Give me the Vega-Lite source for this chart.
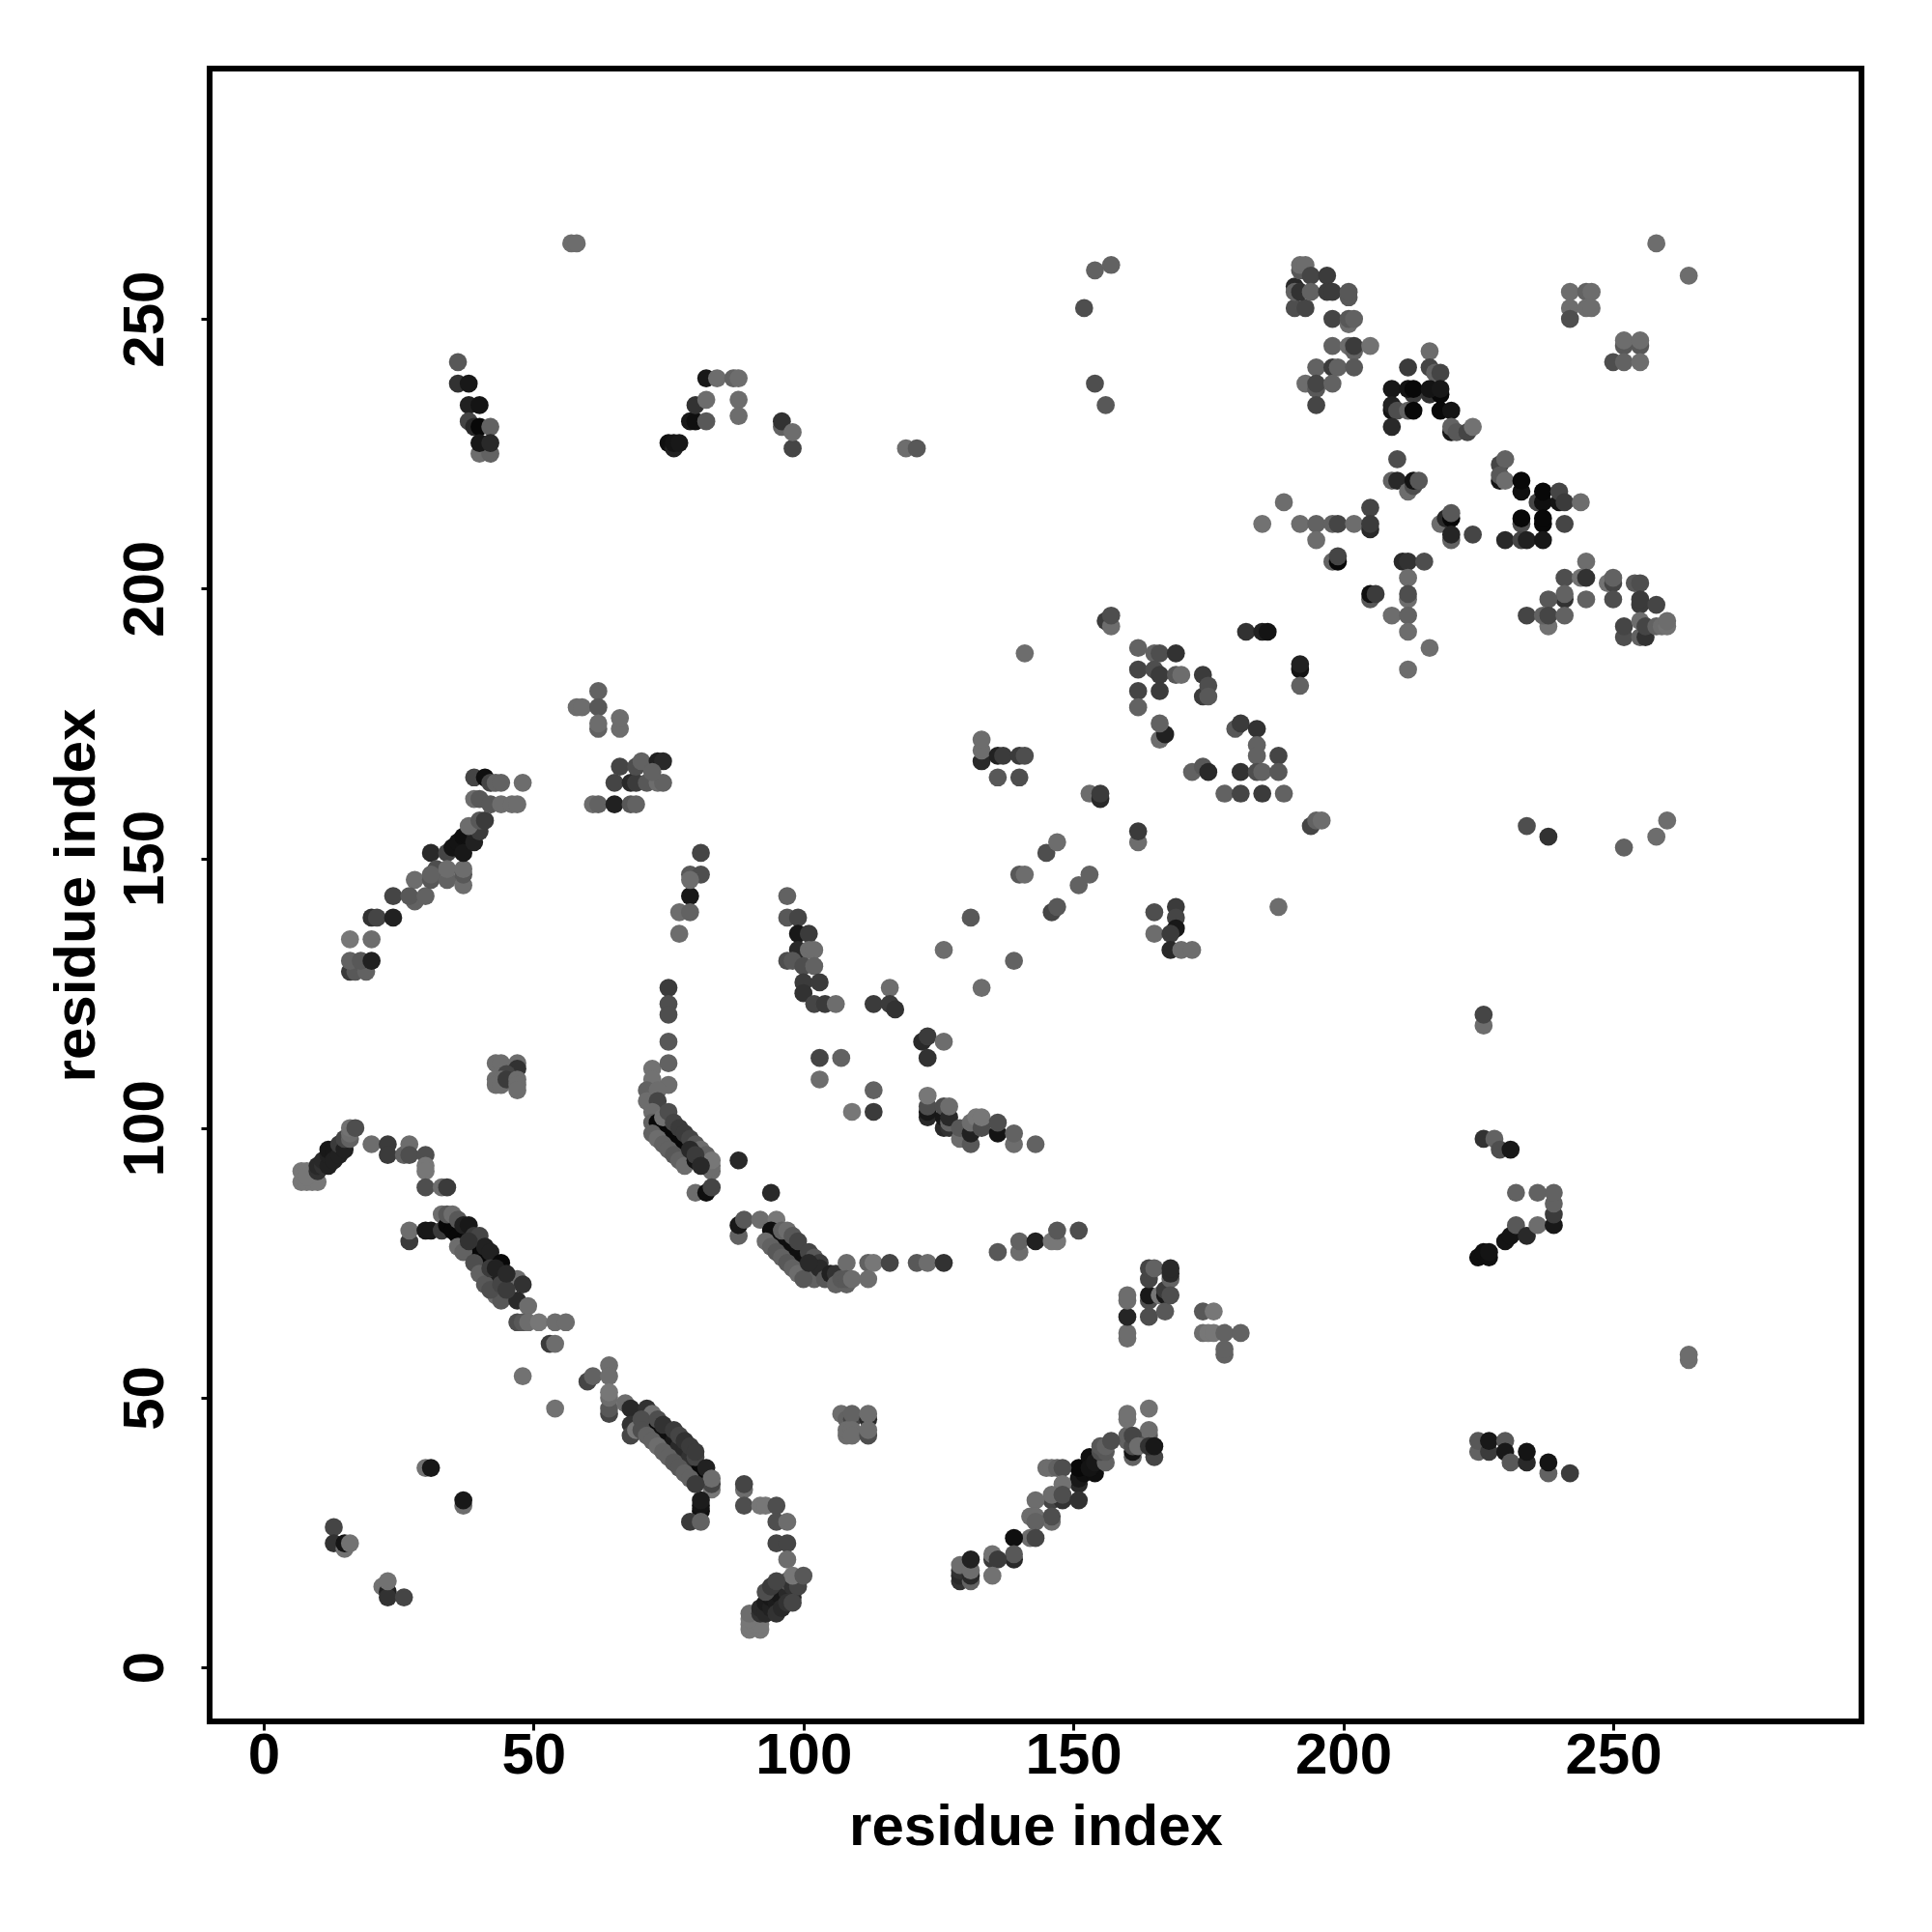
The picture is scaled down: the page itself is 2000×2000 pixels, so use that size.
{"$schema":"https://vega.github.io/schema/vega-lite/v6.json","width":1710,"height":1711,"autosize":"none","padding":{"left":217,"top":71,"right":73,"bottom":218},"background":"white","view":{"stroke":"black","strokeWidth":6,"fill":"white"},
"data":{"values":[
{"x":13,"y":26,"g":70},{"x":13,"y":23,"g":50},{"x":15,"y":22,"g":115},{"x":15,"y":23,"g":15},{"x":16,"y":23,"g":115},{"x":22,"y":15,"g":115},{"x":23,"y":14,"g":30},{"x":23,"y":13,"g":50},{"x":23,"y":16,"g":115},{"x":26,"y":13,"g":70},{"x":30,"y":37,"g":115},{"x":31,"y":37,"g":20},{"x":37,"y":30,"g":110},{"x":37,"y":31,"g":20},
{"x":7,"y":92,"g":120},{"x":8,"y":92,"g":120},{"x":7,"y":90,"g":120},{"x":8,"y":90,"g":120},{"x":9,"y":90,"g":120},{"x":10,"y":90,"g":120},{"x":8,"y":91,"g":120},{"x":10,"y":92,"g":50},{"x":10,"y":93,"g":40},{"x":11,"y":93,"g":50},{"x":11,"y":94,"g":40},{"x":12,"y":93,"g":30},{"x":12,"y":95,"g":30},{"x":12,"y":96,"g":20},{"x":13,"y":96,"g":20},{"x":13,"y":94,"g":30},{"x":14,"y":95,"g":30},{"x":14,"y":97,"g":60},{"x":15,"y":96,"g":30},{"x":15,"y":98,"g":70},{"x":16,"y":98,"g":100},{"x":16,"y":99,"g":110},{"x":16,"y":100,"g":115},{"x":17,"y":100,"g":80},
{"x":20,"y":97,"g":110},{"x":23,"y":97,"g":60},{"x":23,"y":95,"g":60},{"x":26,"y":95,"g":100},{"x":27,"y":97,"g":110},{"x":27,"y":95,"g":80},{"x":30,"y":95,"g":80},{"x":30,"y":93,"g":120},{"x":30,"y":92,"g":120},{"x":30,"y":89,"g":80},{"x":33,"y":89,"g":110},{"x":34,"y":89,"g":60},
{"x":27,"y":79,"g":60},{"x":27,"y":81,"g":110},{"x":30,"y":81,"g":20},{"x":31,"y":81,"g":20},{"x":33,"y":81,"g":60},{"x":33,"y":84,"g":110},{"x":34,"y":82,"g":5},{"x":35,"y":81,"g":5},{"x":36,"y":80,"g":5},{"x":37,"y":79,"g":5},{"x":38,"y":78,"g":5},{"x":39,"y":77,"g":5},{"x":40,"y":75,"g":5},{"x":41,"y":74,"g":5},{"x":41,"y":73,"g":10},{"x":42,"y":72,"g":20},{"x":43,"y":72,"g":30},
{"x":34,"y":84,"g":90},{"x":35,"y":84,"g":110},{"x":36,"y":83,"g":90},{"x":37,"y":82,"g":30},{"x":38,"y":82,"g":20},{"x":39,"y":80,"g":60},{"x":40,"y":80,"g":70},{"x":41,"y":78,"g":30},{"x":42,"y":77,"g":30},{"x":44,"y":75,"g":5},{"x":43,"y":69,"g":110},{"x":44,"y":68,"g":90},{"x":47,"y":72,"g":110},{"x":48,"y":71,"g":50},{"x":47,"y":68,"g":40},{"x":49,"y":67,"g":110},{"x":47,"y":64,"g":80},{"x":48,"y":64,"g":90},{"x":49,"y":64,"g":110},{"x":51,"y":64,"g":120},{"x":54,"y":64,"g":110},{"x":56,"y":64,"g":110},{"x":53,"y":60,"g":60},{"x":54,"y":60,"g":110},{"x":48,"y":54,"g":115},{"x":54,"y":48,"g":115},
{"x":60,"y":53,"g":70},{"x":61,"y":54,"g":100},{"x":64,"y":56,"g":110},{"x":64,"y":54,"g":110},{"x":64,"y":47,"g":70},{"x":64,"y":48,"g":90},{"x":64,"y":50,"g":110},{"x":64,"y":51,"g":120},{"x":67,"y":49,"g":110},{"x":68,"y":48,"g":40},{"x":68,"y":45,"g":50},{"x":68,"y":43,"g":70},{"x":69,"y":44,"g":120},{"x":71,"y":48,"g":50},{"x":72,"y":44,"g":5},{"x":73,"y":43,"g":5},{"x":74,"y":42,"g":5},{"x":75,"y":41,"g":5},{"x":76,"y":40,"g":5},{"x":77,"y":39,"g":5},{"x":78,"y":38,"g":5},{"x":79,"y":37,"g":5},{"x":80,"y":36,"g":5},{"x":81,"y":35,"g":5},{"x":72,"y":47,"g":115},{"x":74,"y":44,"g":10},{"x":75,"y":43,"g":10},{"x":76,"y":42,"g":20},{"x":77,"y":41,"g":40},{"x":78,"y":40,"g":40},{"x":79,"y":39,"g":50},{"x":80,"y":39,"g":70},{"x":82,"y":37,"g":30},{"x":83,"y":33,"g":120},{"x":83,"y":34,"g":70},{"x":83,"y":35,"g":110},{"x":81,"y":29,"g":10},{"x":81,"y":30,"g":15},{"x":81,"y":31,"g":25},{"x":79,"y":27,"g":60},{"x":81,"y":27,"g":100},
{"x":89,"y":33,"g":110},{"x":89,"y":34,"g":70},{"x":89,"y":30,"g":80},{"x":92,"y":30,"g":120},{"x":93,"y":30,"g":120},{"x":95,"y":30,"g":80},{"x":95,"y":27,"g":80},{"x":97,"y":27,"g":110},{"x":95,"y":23,"g":70},{"x":97,"y":23,"g":70},{"x":97,"y":20,"g":110},
{"x":90,"y":7,"g":120},{"x":92,"y":7,"g":120},{"x":90,"y":8,"g":120},{"x":91,"y":8,"g":120},{"x":92,"y":8,"g":120},{"x":90,"y":9,"g":120},{"x":90,"y":10,"g":110},{"x":92,"y":10,"g":50},{"x":92,"y":11,"g":40},{"x":93,"y":10,"g":40},{"x":93,"y":12,"g":25},{"x":94,"y":11,"g":30},{"x":94,"y":13,"g":20},{"x":95,"y":12,"g":25},{"x":95,"y":14,"g":20},{"x":96,"y":13,"g":20},{"x":96,"y":15,"g":20},{"x":97,"y":14,"g":40},{"x":98,"y":13,"g":40},{"x":97,"y":16,"g":90},{"x":98,"y":15,"g":50},{"x":99,"y":15,"g":70},{"x":98,"y":17,"g":120},{"x":100,"y":17,"g":90},
{"x":43,"y":112,"g":110},{"x":44,"y":112,"g":110},{"x":47,"y":112,"g":110},{"x":47,"y":111,"g":50},{"x":45,"y":110,"g":70},{"x":43,"y":109,"g":110},{"x":44,"y":109,"g":110},{"x":43,"y":108,"g":110},{"x":44,"y":108,"g":110},{"x":45,"y":109,"g":60},{"x":47,"y":109,"g":110},{"x":47,"y":108,"g":110},{"x":47,"y":107,"g":110},
{"x":72,"y":111,"g":115},{"x":75,"y":112,"g":100},{"x":72,"y":109,"g":115},{"x":75,"y":108,"g":110},{"x":71,"y":107,"g":100},{"x":73,"y":107,"g":110},{"x":71,"y":105,"g":110},{"x":73,"y":105,"g":70},{"x":72,"y":103,"g":110},{"x":72,"y":101,"g":100},{"x":73,"y":101,"g":5},{"x":74,"y":100,"g":5},{"x":75,"y":99,"g":5},{"x":76,"y":98,"g":5},{"x":77,"y":97,"g":5},{"x":78,"y":96,"g":5},{"x":79,"y":95,"g":5},{"x":74,"y":102,"g":115},{"x":75,"y":103,"g":80},{"x":76,"y":101,"g":70},{"x":77,"y":100,"g":60},{"x":78,"y":99,"g":60},{"x":79,"y":98,"g":70},{"x":80,"y":97,"g":90},{"x":81,"y":96,"g":110},{"x":82,"y":95,"g":100},{"x":83,"y":92,"g":110},{"x":83,"y":93,"g":110},{"x":83,"y":94,"g":120},{"x":80,"y":88,"g":110},{"x":82,"y":88,"g":10},{"x":83,"y":89,"g":70},{"x":88,"y":94,"g":40},{"x":94,"y":88,"g":40},
{"x":88,"y":80,"g":100},{"x":88,"y":82,"g":20},{"x":89,"y":83,"g":90},{"x":92,"y":83,"g":110},{"x":95,"y":83,"g":120},{"x":94,"y":81,"g":10},{"x":95,"y":80,"g":10},{"x":96,"y":79,"g":10},{"x":97,"y":78,"g":10},{"x":98,"y":77,"g":10},{"x":99,"y":76,"g":10},{"x":100,"y":75,"g":10},{"x":96,"y":81,"g":100},{"x":97,"y":81,"g":110},{"x":98,"y":80,"g":90},{"x":99,"y":79,"g":70},{"x":101,"y":77,"g":70},{"x":102,"y":76,"g":90},{"x":103,"y":75,"g":60},{"x":101,"y":73,"g":80},{"x":102,"y":72,"g":100},{"x":103,"y":74,"g":40},{"x":104,"y":72,"g":90},{"x":105,"y":73,"g":30},{"x":106,"y":73,"g":50},{"x":106,"y":71,"g":100},{"x":108,"y":71,"g":100},{"x":107,"y":72,"g":90},{"x":108,"y":75,"g":110},{"x":108,"y":72,"g":90},{"x":109,"y":72,"g":110},{"x":112,"y":75,"g":100},{"x":113,"y":75,"g":120},{"x":112,"y":72,"g":110},{"x":116,"y":75,"g":70},{"x":121,"y":75,"g":90},{"x":123,"y":75,"g":110},{"x":126,"y":75,"g":50},
{"x":136,"y":77,"g":90},{"x":140,"y":77,"g":110},{"x":140,"y":79,"g":100},{"x":143,"y":79,"g":30},{"x":146,"y":79,"g":120},{"x":147,"y":79,"g":120},{"x":147,"y":81,"g":90},{"x":151,"y":81,"g":80},
{"x":113,"y":107,"g":100},{"x":109,"y":103,"g":120},{"x":113,"y":103,"g":60},{"x":123,"y":102,"g":40},{"x":123,"y":103,"g":20},{"x":123,"y":104,"g":80},{"x":123,"y":106,"g":120},{"x":126,"y":100,"g":40},{"x":126,"y":102,"g":20},{"x":126,"y":104,"g":80},{"x":127,"y":100,"g":50},{"x":127,"y":101,"g":100},{"x":127,"y":102,"g":40},{"x":127,"y":104,"g":110},{"x":129,"y":98,"g":110},{"x":129,"y":100,"g":90},{"x":131,"y":97,"g":90},{"x":131,"y":99,"g":30},{"x":131,"y":101,"g":110},{"x":132,"y":102,"g":120},{"x":133,"y":100,"g":80},{"x":133,"y":102,"g":120},{"x":136,"y":99,"g":15},{"x":136,"y":101,"g":80},{"x":139,"y":97,"g":110},{"x":139,"y":99,"g":100},{"x":143,"y":97,"g":100},
{"x":164,"y":65,"g":80},{"x":164,"y":68,"g":80},{"x":164,"y":69,"g":20},{"x":164,"y":72,"g":70},{"x":164,"y":74,"g":70},{"x":165,"y":74,"g":100},{"x":166,"y":69,"g":120},{"x":167,"y":69,"g":20},{"x":167,"y":70,"g":60},{"x":167,"y":66,"g":90},{"x":168,"y":72,"g":100},{"x":168,"y":69,"g":80},{"x":168,"y":73,"g":40},{"x":168,"y":74,"g":40},{"x":160,"y":61,"g":110},{"x":160,"y":62,"g":110},{"x":160,"y":65,"g":35},{"x":160,"y":68,"g":110},{"x":160,"y":69,"g":110},
{"x":174,"y":66,"g":90},{"x":176,"y":66,"g":120},{"x":174,"y":62,"g":110},{"x":175,"y":62,"g":120},{"x":176,"y":62,"g":120},{"x":178,"y":62,"g":100},{"x":178,"y":58,"g":100},{"x":178,"y":59,"g":100},{"x":181,"y":62,"g":100},
{"x":107,"y":47,"g":110},{"x":108,"y":46,"g":100},{"x":109,"y":46,"g":70},{"x":109,"y":47,"g":100},{"x":112,"y":46,"g":40},{"x":112,"y":47,"g":110},{"x":108,"y":43,"g":110},{"x":108,"y":44,"g":110},{"x":109,"y":44,"g":110},{"x":109,"y":43,"g":110},{"x":112,"y":43,"g":80},{"x":112,"y":44,"g":110},
{"x":160,"y":42,"g":100},{"x":160,"y":43,"g":100},{"x":160,"y":46,"g":115},{"x":160,"y":47,"g":115},{"x":164,"y":48,"g":115},{"x":164,"y":43,"g":90},{"x":164,"y":44,"g":110},{"x":161,"y":39,"g":100},{"x":161,"y":40,"g":15},{"x":161,"y":41,"g":80},{"x":161,"y":43,"g":70},{"x":162,"y":41,"g":110},{"x":165,"y":39,"g":70},{"x":164,"y":41,"g":50},{"x":165,"y":41,"g":20},
{"x":151,"y":34,"g":40},{"x":151,"y":35,"g":20},{"x":152,"y":36,"g":10},{"x":151,"y":37,"g":5},{"x":154,"y":36,"g":10},{"x":153,"y":39,"g":10},{"x":153,"y":37,"g":15},{"x":154,"y":38,"g":20},{"x":156,"y":38,"g":100},{"x":155,"y":40,"g":80},{"x":156,"y":40,"g":90},{"x":155,"y":41,"g":90},{"x":156,"y":41,"g":100},{"x":157,"y":42,"g":80},
{"x":145,"y":37,"g":110},{"x":146,"y":37,"g":110},{"x":147,"y":37,"g":100},{"x":148,"y":37,"g":80},{"x":148,"y":34,"g":115},{"x":146,"y":31,"g":70},{"x":148,"y":31,"g":50},{"x":146,"y":32,"g":110},{"x":148,"y":32,"g":80},{"x":151,"y":31,"g":50},{"x":143,"y":31,"g":110},{"x":142,"y":28,"g":110},{"x":143,"y":28,"g":110},{"x":146,"y":27,"g":110},{"x":146,"y":28,"g":80},{"x":143,"y":27,"g":100},{"x":142,"y":24,"g":110},{"x":143,"y":24,"g":70},{"x":139,"y":24,"g":10},{"x":139,"y":20,"g":40},{"x":139,"y":21,"g":90},{"x":135,"y":20,"g":60},{"x":135,"y":21,"g":115},{"x":136,"y":20,"g":60},{"x":135,"y":17,"g":115},
{"x":129,"y":16,"g":50},{"x":129,"y":17,"g":40},{"x":129,"y":18,"g":50},{"x":129,"y":19,"g":110},{"x":131,"y":16,"g":100},{"x":131,"y":17,"g":40},{"x":131,"y":18,"g":110},{"x":131,"y":20,"g":30},
{"x":225,"y":40,"g":100},{"x":225,"y":42,"g":90},{"x":227,"y":40,"g":60},{"x":227,"y":42,"g":20},{"x":230,"y":42,"g":90},{"x":230,"y":40,"g":20},{"x":231,"y":38,"g":90},{"x":234,"y":38,"g":40},{"x":234,"y":40,"g":15},{"x":238,"y":36,"g":100},{"x":238,"y":38,"g":15},{"x":242,"y":36,"g":60},
{"x":225,"y":76,"g":10},{"x":226,"y":77,"g":10},{"x":227,"y":76,"g":10},{"x":227,"y":77,"g":15},{"x":230,"y":79,"g":15},{"x":231,"y":80,"g":15},{"x":232,"y":82,"g":90},{"x":234,"y":80,"g":40},{"x":236,"y":82,"g":110},{"x":239,"y":82,"g":20},{"x":239,"y":84,"g":60},{"x":232,"y":88,"g":100},{"x":236,"y":88,"g":100},{"x":239,"y":86,"g":100},{"x":239,"y":88,"g":100},{"x":226,"y":98,"g":50},{"x":228,"y":98,"g":100},{"x":229,"y":96,"g":80},{"x":231,"y":96,"g":20},{"x":226,"y":119,"g":110},{"x":226,"y":121,"g":70},{"x":264,"y":57,"g":110},{"x":264,"y":58,"g":110},
{"x":234,"y":156,"g":80},{"x":238,"y":154,"g":50},{"x":252,"y":152,"g":100},{"x":258,"y":154,"g":110},{"x":260,"y":157,"g":110},
{"x":97,"y":143,"g":100},{"x":97,"y":139,"g":90},{"x":99,"y":139,"g":70},{"x":99,"y":136,"g":20},{"x":101,"y":136,"g":60},{"x":99,"y":133,"g":40},{"x":97,"y":131,"g":80},{"x":98,"y":131,"g":90},{"x":101,"y":133,"g":110},{"x":102,"y":133,"g":110},{"x":100,"y":130,"g":80},{"x":102,"y":130,"g":100},{"x":100,"y":127,"g":60},{"x":103,"y":127,"g":60},{"x":100,"y":125,"g":50},{"x":102,"y":123,"g":70},{"x":104,"y":123,"g":60},{"x":106,"y":123,"g":110},{"x":103,"y":113,"g":70},{"x":107,"y":113,"g":100},{"x":103,"y":109,"g":110},
{"x":113,"y":123,"g":60},{"x":116,"y":126,"g":110},{"x":116,"y":123,"g":60},{"x":117,"y":122,"g":50},{"x":122,"y":116,"g":40},{"x":123,"y":117,"g":60},{"x":123,"y":113,"g":50},{"x":126,"y":116,"g":110},{"x":126,"y":133,"g":110},{"x":131,"y":139,"g":90},{"x":133,"y":126,"g":110},{"x":139,"y":131,"g":100},
{"x":140,"y":147,"g":90},{"x":141,"y":147,"g":110},{"x":145,"y":151,"g":80},{"x":147,"y":153,"g":110},{"x":151,"y":145,"g":100},{"x":153,"y":147,"g":100},{"x":146,"y":140,"g":70},{"x":147,"y":141,"g":90},{"x":153,"y":162,"g":110},{"x":155,"y":161,"g":40},{"x":155,"y":162,"g":60},{"x":162,"y":153,"g":110},{"x":162,"y":155,"g":60},
{"x":165,"y":140,"g":80},{"x":169,"y":141,"g":60},{"x":169,"y":139,"g":70},{"x":169,"y":137,"g":20},{"x":165,"y":136,"g":110},{"x":168,"y":136,"g":60},{"x":168,"y":133,"g":40},{"x":170,"y":133,"g":110},{"x":172,"y":133,"g":110},{"x":188,"y":141,"g":110},
{"x":133,"y":168,"g":40},{"x":133,"y":170,"g":110},{"x":133,"y":172,"g":110},{"x":136,"y":169,"g":30},{"x":137,"y":169,"g":60},{"x":136,"y":165,"g":90},{"x":140,"y":169,"g":60},{"x":141,"y":169,"g":80},{"x":140,"y":165,"g":80},{"x":141,"y":188,"g":110},
{"x":152,"y":252,"g":80},{"x":154,"y":238,"g":80},{"x":154,"y":259,"g":100},{"x":157,"y":260,"g":100},{"x":156,"y":234,"g":90},{"x":156,"y":194,"g":60},{"x":157,"y":193,"g":110},{"x":157,"y":195,"g":80},
{"x":162,"y":189,"g":100},{"x":162,"y":185,"g":70},{"x":162,"y":181,"g":70},{"x":162,"y":178,"g":100},{"x":165,"y":188,"g":100},{"x":166,"y":188,"g":80},{"x":165,"y":185,"g":80},{"x":166,"y":184,"g":60},{"x":169,"y":188,"g":50},{"x":169,"y":184,"g":90},{"x":170,"y":184,"g":110},{"x":166,"y":181,"g":60},{"x":166,"y":172,"g":110},{"x":167,"y":173,"g":30},{"x":166,"y":175,"g":100},{"x":172,"y":166,"g":100},{"x":174,"y":167,"g":90},{"x":175,"y":166,"g":40},{"x":174,"y":180,"g":60},{"x":174,"y":184,"g":60},{"x":175,"y":182,"g":80},{"x":175,"y":180,"g":90},{"x":181,"y":166,"g":50},{"x":180,"y":174,"g":90},{"x":181,"y":175,"g":60},{"x":184,"y":174,"g":50},{"x":184,"y":171,"g":100},{"x":184,"y":169,"g":100},{"x":184,"y":166,"g":80},{"x":185,"y":166,"g":100},{"x":188,"y":169,"g":70},{"x":188,"y":166,"g":90},{"x":178,"y":162,"g":100},{"x":181,"y":162,"g":70},{"x":185,"y":162,"g":60},{"x":189,"y":162,"g":100},{"x":182,"y":192,"g":50},{"x":185,"y":192,"g":30},{"x":186,"y":192,"g":15},{"x":192,"y":185,"g":15},{"x":192,"y":186,"g":30},{"x":192,"y":182,"g":100},{"x":194,"y":156,"g":70},{"x":195,"y":157,"g":100},{"x":196,"y":157,"g":110},
{"x":36,"y":242,"g":90},{"x":36,"y":238,"g":50},{"x":38,"y":238,"g":20},{"x":38,"y":234,"g":30},{"x":40,"y":234,"g":15},{"x":38,"y":231,"g":70},{"x":39,"y":230,"g":40},{"x":40,"y":230,"g":5},{"x":42,"y":230,"g":100},{"x":40,"y":225,"g":110},{"x":42,"y":225,"g":100},{"x":40,"y":227,"g":20},{"x":42,"y":227,"g":40},
{"x":75,"y":227,"g":10},{"x":76,"y":226,"g":30},{"x":76,"y":227,"g":15},{"x":77,"y":227,"g":20},{"x":79,"y":231,"g":20},{"x":80,"y":231,"g":10},{"x":80,"y":234,"g":50},{"x":82,"y":231,"g":90},{"x":82,"y":235,"g":110},{"x":82,"y":239,"g":20},{"x":84,"y":239,"g":110},{"x":87,"y":239,"g":100},{"x":88,"y":239,"g":110},{"x":88,"y":235,"g":110},{"x":88,"y":232,"g":110},{"x":96,"y":230,"g":100},{"x":96,"y":231,"g":50},{"x":98,"y":226,"g":70},{"x":98,"y":229,"g":110},{"x":119,"y":226,"g":110},{"x":121,"y":226,"g":90},{"x":57,"y":264,"g":110},{"x":58,"y":264,"g":110},{"x":258,"y":264,"g":110},{"x":264,"y":258,"g":110},
{"x":16,"y":135,"g":120},{"x":20,"y":135,"g":110},{"x":16,"y":129,"g":60},{"x":17,"y":129,"g":90},{"x":19,"y":129,"g":100},{"x":16,"y":131,"g":100},{"x":18,"y":131,"g":90},{"x":20,"y":131,"g":30},{"x":20,"y":139,"g":50},{"x":21,"y":139,"g":70},{"x":24,"y":139,"g":30},{"x":24,"y":143,"g":70},{"x":28,"y":142,"g":100},{"x":28,"y":146,"g":110},{"x":27,"y":143,"g":90},{"x":30,"y":143,"g":100},{"x":31,"y":146,"g":90},{"x":31,"y":151,"g":40},{"x":32,"y":148,"g":80},{"x":31,"y":147,"g":100},{"x":34,"y":151,"g":70},{"x":34,"y":146,"g":100},{"x":34,"y":148,"g":110},{"x":37,"y":145,"g":110},{"x":37,"y":147,"g":90},{"x":37,"y":148,"g":110},{"x":35,"y":152,"g":15},{"x":36,"y":153,"g":15},{"x":37,"y":154,"g":10},{"x":38,"y":154,"g":10},{"x":37,"y":151,"g":20},{"x":39,"y":153,"g":30},{"x":39,"y":155,"g":30},{"x":40,"y":155,"g":60},{"x":38,"y":156,"g":110},{"x":40,"y":157,"g":90},{"x":41,"y":157,"g":60},
{"x":39,"y":165,"g":70},{"x":41,"y":165,"g":10},{"x":42,"y":164,"g":70},{"x":43,"y":164,"g":100},{"x":44,"y":164,"g":100},{"x":39,"y":161,"g":110},{"x":40,"y":161,"g":90},{"x":42,"y":160,"g":90},{"x":44,"y":160,"g":110},{"x":46,"y":160,"g":110},{"x":47,"y":160,"g":110},{"x":48,"y":164,"g":110},
{"x":58,"y":178,"g":110},{"x":59,"y":178,"g":110},{"x":62,"y":181,"g":100},{"x":62,"y":178,"g":90},{"x":62,"y":174,"g":100},{"x":62,"y":175,"g":110},{"x":66,"y":174,"g":110},{"x":66,"y":176,"g":110},{"x":61,"y":160,"g":110},{"x":62,"y":160,"g":100},{"x":65,"y":160,"g":30},{"x":68,"y":160,"g":90},{"x":69,"y":160,"g":100},{"x":65,"y":164,"g":70},{"x":66,"y":167,"g":70},{"x":68,"y":164,"g":40},{"x":69,"y":164,"g":60},{"x":69,"y":167,"g":80},{"x":70,"y":168,"g":100},{"x":73,"y":168,"g":30},{"x":74,"y":168,"g":40},{"x":71,"y":164,"g":90},{"x":73,"y":164,"g":110},{"x":74,"y":164,"g":100},{"x":72,"y":166,"g":100},
{"x":81,"y":151,"g":70},{"x":79,"y":147,"g":90},{"x":81,"y":147,"g":80},{"x":79,"y":143,"g":20},{"x":79,"y":146,"g":110},{"x":77,"y":140,"g":110},{"x":79,"y":140,"g":100},{"x":77,"y":136,"g":110},{"x":75,"y":126,"g":60},{"x":75,"y":123,"g":80},{"x":75,"y":121,"g":80},{"x":75,"y":116,"g":90},
{"x":242,"y":255,"g":110},{"x":242,"y":252,"g":110},{"x":242,"y":250,"g":80},{"x":245,"y":255,"g":100},{"x":246,"y":255,"g":110},{"x":245,"y":252,"g":110},{"x":246,"y":252,"g":110},{"x":252,"y":245,"g":90},{"x":255,"y":245,"g":90},{"x":252,"y":246,"g":110},{"x":255,"y":246,"g":110},{"x":250,"y":242,"g":80},{"x":252,"y":242,"g":100},{"x":255,"y":242,"g":110},
{"x":191,"y":252,"g":80},{"x":193,"y":252,"g":70},{"x":191,"y":256,"g":40},{"x":191,"y":255,"g":100},{"x":192,"y":255,"g":50},{"x":192,"y":259,"g":90},{"x":192,"y":260,"g":110},{"x":193,"y":260,"g":110},{"x":194,"y":258,"g":70},{"x":194,"y":255,"g":100},{"x":197,"y":258,"g":60},{"x":197,"y":255,"g":60},{"x":198,"y":255,"g":60},{"x":201,"y":254,"g":90},{"x":201,"y":255,"g":90},{"x":198,"y":250,"g":70},{"x":201,"y":249,"g":110},{"x":201,"y":250,"g":90},{"x":202,"y":250,"g":100},{"x":198,"y":245,"g":100},{"x":201,"y":245,"g":110},{"x":202,"y":244,"g":100},{"x":202,"y":245,"g":60},{"x":205,"y":245,"g":115},{"x":195,"y":241,"g":100},{"x":198,"y":241,"g":60},{"x":199,"y":241,"g":100},{"x":202,"y":241,"g":90},{"x":193,"y":238,"g":110},{"x":195,"y":237,"g":90},{"x":195,"y":238,"g":70},{"x":198,"y":238,"g":100},{"x":195,"y":234,"g":70},
{"x":216,"y":244,"g":110},{"x":212,"y":241,"g":60},{"x":216,"y":241,"g":70},{"x":217,"y":240,"g":100},{"x":218,"y":240,"g":70},{"x":213,"y":236,"g":60},{"x":216,"y":236,"g":50},{"x":218,"y":236,"g":5},{"x":209,"y":237,"g":20},{"x":212,"y":237,"g":15},{"x":213,"y":237,"g":5},{"x":216,"y":237,"g":15},{"x":218,"y":237,"g":20},{"x":209,"y":233,"g":15},{"x":209,"y":234,"g":30},{"x":210,"y":233,"g":80},{"x":212,"y":233,"g":100},{"x":213,"y":233,"g":5},{"x":218,"y":233,"g":5},{"x":220,"y":233,"g":15},{"x":209,"y":230,"g":40},{"x":220,"y":229,"g":20},{"x":220,"y":230,"g":100},{"x":221,"y":229,"g":90},{"x":223,"y":229,"g":70},{"x":224,"y":230,"g":115},
{"x":210,"y":224,"g":80},{"x":209,"y":220,"g":100},{"x":210,"y":220,"g":40},{"x":212,"y":218,"g":110},{"x":213,"y":219,"g":80},{"x":213,"y":220,"g":15},{"x":214,"y":220,"g":90},
{"x":229,"y":223,"g":70},{"x":230,"y":224,"g":100},{"x":229,"y":220,"g":15},{"x":229,"y":221,"g":90},{"x":230,"y":220,"g":110},{"x":233,"y":218,"g":10},{"x":233,"y":220,"g":5},{"x":236,"y":216,"g":70},{"x":237,"y":216,"g":10},{"x":237,"y":218,"g":5},{"x":240,"y":216,"g":15},{"x":240,"y":218,"g":70},{"x":241,"y":216,"g":60},{"x":244,"y":216,"g":110},{"x":233,"y":212,"g":80},{"x":233,"y":213,"g":5},{"x":237,"y":212,"g":5},{"x":237,"y":213,"g":5},{"x":241,"y":212,"g":70},{"x":230,"y":209,"g":40},{"x":233,"y":209,"g":70},{"x":234,"y":209,"g":30},{"x":237,"y":209,"g":20},
{"x":189,"y":216,"g":110},{"x":185,"y":212,"g":115},{"x":192,"y":212,"g":110},{"x":195,"y":212,"g":100},{"x":198,"y":212,"g":100},{"x":199,"y":212,"g":70},{"x":202,"y":212,"g":110},{"x":195,"y":209,"g":110},{"x":205,"y":215,"g":70},{"x":205,"y":211,"g":40},{"x":205,"y":212,"g":60},
{"x":218,"y":212,"g":110},{"x":219,"y":213,"g":40},{"x":220,"y":213,"g":5},{"x":220,"y":214,"g":90},{"x":220,"y":209,"g":100},{"x":220,"y":210,"g":35},{"x":224,"y":210,"g":70},
{"x":198,"y":205,"g":100},{"x":199,"y":205,"g":5},{"x":199,"y":206,"g":70},{"x":211,"y":205,"g":40},{"x":212,"y":205,"g":50},{"x":215,"y":205,"g":80},{"x":212,"y":202,"g":110},{"x":212,"y":198,"g":110},{"x":212,"y":199,"g":80},{"x":205,"y":198,"g":90},{"x":205,"y":199,"g":10},{"x":206,"y":199,"g":60},{"x":209,"y":195,"g":110},{"x":212,"y":195,"g":100},{"x":212,"y":192,"g":110},{"x":216,"y":189,"g":110},{"x":212,"y":185,"g":110},
{"x":245,"y":205,"g":110},{"x":241,"y":202,"g":80},{"x":244,"y":202,"g":115},{"x":245,"y":202,"g":50},{"x":249,"y":201,"g":115},{"x":250,"y":201,"g":70},{"x":250,"y":202,"g":100},{"x":254,"y":201,"g":90},{"x":255,"y":201,"g":80},{"x":245,"y":198,"g":100},{"x":241,"y":198,"g":50},{"x":241,"y":199,"g":100},{"x":238,"y":198,"g":90},{"x":250,"y":198,"g":80},{"x":255,"y":197,"g":60},{"x":255,"y":198,"g":60},{"x":258,"y":197,"g":70},{"x":234,"y":195,"g":70},{"x":238,"y":193,"g":115},{"x":237,"y":195,"g":100},{"x":238,"y":195,"g":70},{"x":241,"y":195,"g":100},
{"x":252,"y":191,"g":80},{"x":252,"y":193,"g":70},{"x":255,"y":191,"g":100},{"x":256,"y":191,"g":50},{"x":255,"y":194,"g":110},{"x":256,"y":193,"g":70},{"x":258,"y":193,"g":100},{"x":259,"y":193,"g":110},{"x":260,"y":193,"g":115},{"x":260,"y":194,"g":110},
{"x":36,"y":78,"g":110},{"x":37,"y":77,"g":100},{"x":38,"y":79,"g":50},{"x":39,"y":75,"g":80},{"x":40,"y":73,"g":100},{"x":41,"y":71,"g":90},{"x":42,"y":70,"g":80},{"x":42,"y":74,"g":60},{"x":43,"y":74,"g":30},{"x":44,"y":71,"g":70},{"x":45,"y":70,"g":60},{"x":45,"y":73,"g":40},
{"x":70,"y":46,"g":80},{"x":70,"y":44,"g":80},{"x":71,"y":43,"g":100},{"x":72,"y":42,"g":100},{"x":73,"y":41,"g":110},{"x":74,"y":40,"g":100},{"x":75,"y":39,"g":100},{"x":76,"y":38,"g":90},{"x":77,"y":37,"g":90},{"x":78,"y":36,"g":100},{"x":79,"y":35,"g":100},{"x":80,"y":34,"g":60},{"x":73,"y":46,"g":80},{"x":74,"y":45,"g":50},{"x":76,"y":44,"g":60},{"x":77,"y":43,"g":70},{"x":78,"y":42,"g":50},{"x":79,"y":41,"g":60},{"x":80,"y":40,"g":60},
{"x":72,"y":99,"g":100},{"x":73,"y":98,"g":110},{"x":74,"y":97,"g":100},{"x":75,"y":96,"g":100},{"x":76,"y":95,"g":90},{"x":77,"y":94,"g":100},{"x":78,"y":93,"g":110},{"x":79,"y":96,"g":40},{"x":80,"y":94,"g":15},{"x":80,"y":95,"g":60},{"x":81,"y":93,"g":40},
{"x":93,"y":79,"g":110},{"x":94,"y":78,"g":100},{"x":95,"y":77,"g":90},{"x":96,"y":76,"g":100},{"x":97,"y":75,"g":90},{"x":98,"y":74,"g":100},{"x":99,"y":73,"g":110},{"x":100,"y":72,"g":90},{"x":101,"y":75,"g":40},
{"x":93,"y":14,"g":80},{"x":94,"y":15,"g":60},{"x":95,"y":16,"g":70},{"x":95,"y":10,"g":50},{"x":96,"y":11,"g":40},{"x":97,"y":12,"g":50},{"x":98,"y":12,"g":70}
]},
"mark":{"type":"circle","size":350,"opacity":1,"stroke":null},
"encoding":{
"x":{"field":"x","type":"quantitative","scale":{"domain":[-10,296],"nice":false,"zero":false},"axis":{"title":"residue index","values":[0,50,100,150,200,250],"grid":false,"domain":false,"tickColor":"black","tickWidth":3,"tickSize":9,"labelPadding":-3,"labelFont":"Liberation Sans","labelFontWeight":"bold","labelFontSize":60,"labelColor":"black","titleFont":"Liberation Sans","titleFontWeight":"bold","titleFontSize":60,"titleColor":"black","titlePadding":15}},
"y":{"field":"y","type":"quantitative","scale":{"domain":[-10,296.4],"nice":false,"zero":false},"axis":{"title":"residue index","values":[0,50,100,150,200,250],"grid":false,"domain":false,"tickColor":"black","tickWidth":3,"tickSize":9,"labelPadding":27,"labelAngle":-90,"labelAlign":"center","labelBaseline":"bottom","labelFont":"Liberation Sans","labelFontWeight":"bold","labelFontSize":60,"labelColor":"black","titleFont":"Liberation Sans","titleFontWeight":"bold","titleFontSize":60,"titleColor":"black","titlePadding":10}},
"color":{"field":"g","type":"quantitative","legend":null,"scale":{"domain":[0,240],"range":["#000000","#ffffff"]}}
}}
